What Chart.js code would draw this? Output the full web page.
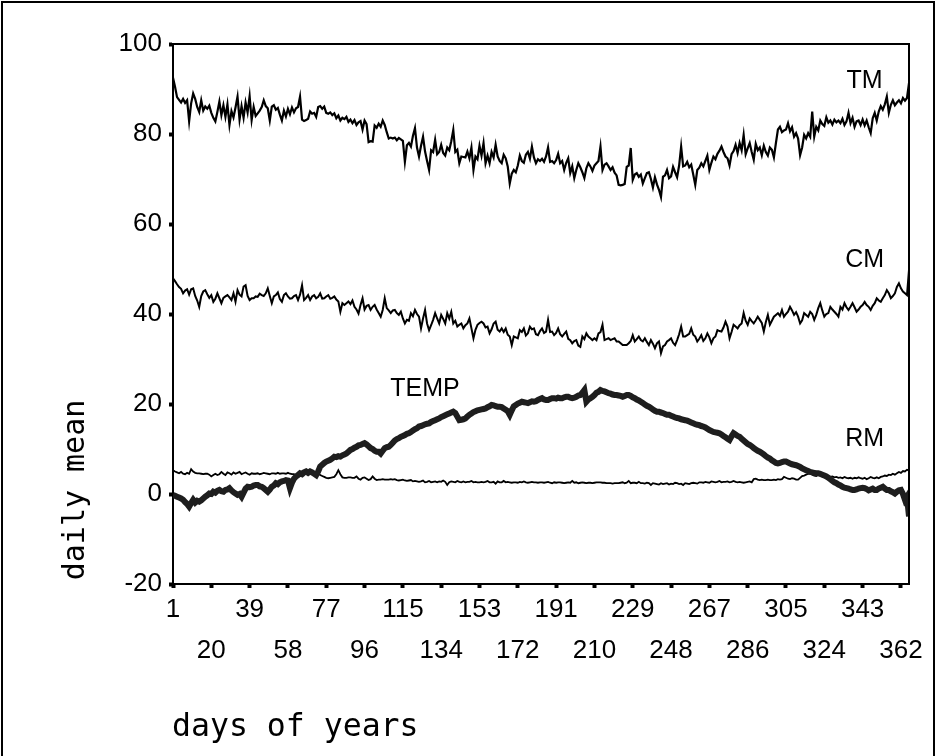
<!DOCTYPE html>
<html>
<head>
<meta charset="utf-8">
<script src="https://cdn.jsdelivr.net/npm/chart.js@4/dist/chart.umd.min.js"></script>
<style>
  html, body { margin: 0; padding: 0; background: #fff; }
  #wrap { position: relative; width: 936px; height: 756px; overflow: hidden; }
  #frame { position: absolute; left: 1px; top: 1px; width: 934px; height: 760px;
           border: 2px solid #000; box-sizing: border-box; pointer-events: none; }
</style>
</head>
<body>
<div id="wrap">
  <canvas id="chart" width="936" height="756"></canvas>
  <div id="frame"></div>
</div>
<script>
// ===== Data (daily means, one value per day of year) =====
const tm = [
  92.5, 90.5, 88.2, 87.6, 87.0, 87.8, 86.9, 87.5, 82.8, 86.8,
  89.0, 87.8, 86.0, 84.9, 87.5, 85.2, 86.1, 85.6, 86.3, 84.7,
  83.6, 82.8, 84.9, 87.2, 84.2, 86.4, 83.8, 86.6, 82.0, 85.1,
  83.7, 85.9, 88.3, 83.2, 86.2, 83.6, 87.0, 84.8, 88.4, 83.1,
  86.0, 84.0, 84.6, 85.2, 86.0, 87.5, 86.2, 85.7, 83.0, 86.1,
  86.4, 85.4, 85.8, 84.3, 83.0, 85.2, 83.9, 85.6, 84.4, 85.9,
  84.8, 85.7, 86.0, 88.3, 83.2, 82.9, 83.1, 83.4, 85.0, 84.5,
  84.7, 83.8, 86.0, 86.2, 85.6, 86.1, 84.7, 84.5, 84.8, 84.2,
  84.6, 83.5, 84.1, 83.0, 83.6, 83.3, 83.8, 82.7, 83.2, 82.4,
  83.1, 82.0, 82.6, 82.9, 81.0, 83.0, 82.2, 78.2, 78.4, 78.3,
  81.9, 81.4, 82.3, 81.6, 83.0, 82.0, 80.4, 79.0, 79.2, 79.0,
  79.2, 78.6, 79.1, 78.8, 78.5, 73.8, 77.5, 78.0, 77.2, 79.6,
  81.3, 77.0, 75.0, 77.4, 79.4, 76.1, 74.0, 72.0, 76.4, 76.0,
  78.7, 75.5, 76.0, 77.6, 75.8, 75.2, 77.0, 76.4, 78.4, 80.9,
  76.0, 76.5, 73.5, 75.0, 74.9, 74.8, 76.1, 74.6, 77.0, 72.0,
  75.0, 74.4, 77.4, 75.2, 78.0, 73.5, 75.2, 73.5, 76.0, 74.8,
  77.6, 75.0, 74.0, 73.5, 75.4, 74.6, 72.8, 69.0, 71.2, 72.0,
  71.5, 73.0, 75.2, 74.0, 73.6, 75.4, 76.0, 74.5, 77.2, 74.8,
  73.5, 74.4, 74.0, 74.5, 73.8, 75.0, 77.0, 73.8, 74.0, 73.5,
  74.2, 75.6, 73.5, 74.0, 72.0, 73.6, 74.6, 71.3, 72.8, 70.2,
  72.0, 73.5, 72.6, 71.5, 70.2, 72.4, 73.5, 72.8, 71.8, 73.0,
  73.5, 74.0, 77.2, 72.0, 73.2, 73.5, 72.8, 72.0, 72.6, 71.4,
  70.8, 68.7, 68.6, 68.7, 68.9, 72.7, 73.0, 76.9, 69.8, 71.0,
  71.3, 70.5, 71.0, 69.0, 70.2, 71.3, 71.5, 70.0, 68.1, 70.4,
  68.8, 67.6, 66.0, 70.5, 70.8, 72.0, 70.2, 70.6, 72.7, 71.5,
  70.4, 73.0, 77.2, 72.8, 73.0, 73.8, 72.6, 73.2, 71.0, 68.7,
  72.0, 72.5, 73.5, 72.8, 74.0, 75.2, 72.0, 73.6, 75.0, 74.4,
  75.6, 76.3, 77.2, 76.0, 75.0, 74.6, 73.0, 75.5, 76.2, 77.6,
  75.8, 78.0, 76.4, 79.8, 75.5, 76.8, 78.0, 76.0, 74.3, 77.8,
  76.4, 77.0, 75.3, 77.4, 76.0, 75.2, 77.0, 76.5, 74.8, 78.0,
  81.0, 81.6, 80.4, 80.8, 81.0, 82.4, 80.6, 81.5, 79.4, 80.2,
  79.0, 75.3, 77.0, 79.8, 79.0, 80.2, 79.4, 85.0, 79.4, 81.6,
  80.8, 83.0, 82.2, 81.8, 83.7, 82.5, 83.0, 82.1, 83.2, 82.6,
  83.0, 82.4, 83.4, 82.0, 82.8, 84.7, 82.4, 83.6, 81.6, 82.8,
  83.0, 82.0, 83.2, 81.9, 83.0, 81.5, 80.2, 83.5, 84.7, 83.0,
  85.0, 86.2, 85.4, 86.6, 88.3, 84.7, 86.5, 87.5, 86.4, 87.0,
  87.5, 86.8, 88.0, 87.4, 88.0, 91.3
];

const cm = [
  47.9, 47.3, 46.6, 46.0, 45.6, 44.6, 45.2, 45.5, 44.3, 45.5,
  45.7, 44.0, 43.0, 41.6, 44.0, 45.0, 45.3, 44.4, 43.6, 44.2,
  42.7, 43.4, 44.6, 43.5, 42.4, 43.6, 43.9, 44.2, 43.7, 43.1,
  44.6, 42.7, 45.3, 44.3, 43.9, 46.1, 46.4, 44.0, 43.1, 43.5,
  43.5, 43.9, 43.8, 44.5, 44.2, 44.0, 44.6, 45.7, 44.0, 42.4,
  43.9, 44.2, 44.8, 43.3, 42.7, 44.2, 44.6, 43.9, 43.4, 43.5,
  44.0, 44.2, 43.1, 44.3, 46.4, 43.1, 43.6, 44.2, 43.1, 43.9,
  44.2, 43.5, 43.8, 44.6, 43.4, 43.5, 43.9, 44.2, 43.4, 43.6,
  43.9, 43.2, 42.8, 40.5, 42.4, 42.0, 42.4, 42.8, 42.2, 43.0,
  41.6, 41.0, 40.1, 42.0, 43.5, 41.0, 41.8, 42.0, 40.9, 41.6,
  42.0, 41.0, 40.2, 39.4, 40.9, 43.5, 41.3, 40.8, 40.2, 40.8,
  40.9, 40.2, 39.8, 40.5, 39.0, 37.9, 38.7, 38.5, 40.2, 39.5,
  40.9, 40.0, 39.4, 36.8, 39.0, 40.9, 37.9, 36.4, 37.5, 38.7,
  40.2, 39.0, 37.9, 39.8, 38.9, 37.9, 40.2, 39.0, 40.5, 37.9,
  38.5, 37.2, 37.6, 37.9, 36.8, 37.5, 37.9, 39.0, 36.8, 34.6,
  36.5, 37.6, 38.0, 38.3, 37.9, 37.0, 37.2, 35.7, 36.6, 37.9,
  38.3, 36.5, 36.1, 36.8, 36.0, 36.8, 35.4, 35.0, 33.1, 35.0,
  34.8, 34.6, 36.4, 36.0, 36.8, 35.2, 35.7, 37.2, 36.6, 36.8,
  35.5, 35.3, 36.2, 36.8, 35.8, 36.1, 38.7, 36.0, 36.1, 35.3,
  35.8, 36.8, 35.5, 35.0, 35.6, 36.1, 34.5, 34.2, 33.5, 34.0,
  34.2, 33.0, 32.7, 35.0, 34.4, 35.7, 35.0, 34.6, 34.2, 34.6,
  34.2, 35.7, 36.0, 37.6, 34.2, 34.4, 34.6, 34.2, 34.4, 34.6,
  33.9, 33.9, 33.5, 33.1, 33.1, 33.1, 33.5, 34.0, 35.3, 33.9,
  34.4, 35.0, 34.2, 33.9, 34.6, 33.8, 33.1, 34.2, 33.4, 32.4,
  33.5, 33.9, 31.3, 32.8, 33.1, 33.9, 34.2, 34.6, 33.6, 33.1,
  34.2, 35.5, 37.2, 35.0, 35.0, 35.3, 35.6, 36.8, 35.4, 35.0,
  33.9, 34.5, 35.3, 34.0, 34.6, 35.7, 34.8, 33.5, 34.6, 35.0,
  36.4, 36.2, 36.1, 37.0, 38.3, 37.2, 34.6, 36.0, 37.6, 37.2,
  36.8, 37.5, 37.9, 40.2, 38.5, 37.6, 39.0, 38.4, 37.9, 38.6,
  39.4, 38.7, 38.0, 36.1, 38.2, 39.8, 37.6, 38.5, 39.4, 39.8,
  40.2, 39.6, 40.9, 39.4, 40.0, 40.5, 41.6, 40.8, 39.8, 40.4,
  39.4, 37.9, 38.6, 40.2, 39.8, 39.4, 40.5, 40.0, 38.7, 39.8,
  41.3, 42.4, 40.8, 39.4, 40.0, 40.2, 41.6, 41.0, 40.5, 40.0,
  39.4, 41.6, 41.0, 42.4, 41.5, 40.9, 41.6, 42.4, 41.5, 40.5,
  41.0, 41.6, 42.0, 42.7, 42.0, 41.6, 40.9, 41.8, 42.4, 43.5,
  43.0, 42.7, 43.5, 44.2, 45.3, 44.6, 43.5, 44.0, 44.6, 46.0,
  46.8, 45.7, 45.0, 44.6, 44.2, 49.8
];

const temp = [
  -0.2, -0.4, -0.6, -0.8, -1.0, -1.3, -1.8, -2.2, -2.8, -2.0,
  -1.3, -1.9, -1.5, -1.7, -1.4, -1.0, -0.6, -0.3, 0.1, 0.0,
  0.5, 0.3, 0.7, 0.9, 0.6, 0.5, 0.9, 1.0, 1.3, 0.8,
  0.4, 0.1, -0.2, 0.0, -0.6, 0.3, 1.2, 1.6, 1.5, 1.6,
  1.9, 2.0, 2.0, 1.7, 1.6, 1.3, 0.9, 0.5, 1.0, 1.6,
  1.9, 2.4, 2.2, 2.6, 2.8, 2.9, 3.1, 3.0, 1.3, 2.5,
  3.4, 3.9, 4.2, 4.6, 4.4, 4.8, 5.0, 4.7, 5.0, 4.8,
  4.5, 4.2, 5.0, 6.1, 6.5, 6.9, 7.2, 7.4, 7.6, 7.9,
  8.3, 8.2, 8.4, 8.3, 8.6, 8.8, 9.0, 9.4, 9.8, 10.0,
  10.3, 10.5, 10.8, 10.9, 11.1, 11.3, 11.0, 10.6, 10.2, 10.0,
  9.6, 9.4, 9.4, 9.0, 9.6, 10.2, 10.4, 10.5, 10.9, 11.4,
  11.9, 12.2, 12.4, 12.7, 12.9, 13.1, 13.4, 13.5, 13.8, 14.1,
  14.4, 14.6, 15.0, 15.1, 15.3, 15.5, 15.6, 15.7, 16.0, 16.2,
  16.4, 16.6, 16.8, 17.1, 17.3, 17.5, 17.7, 17.9, 18.1, 18.3,
  18.0, 17.2, 16.4, 16.5, 16.6, 16.8, 17.2, 17.6, 17.9, 18.2,
  18.4, 18.6, 18.7, 18.8, 18.9, 19.0, 19.3, 19.5, 19.8, 19.7,
  19.5, 19.4, 19.4, 19.3, 19.0, 18.7, 18.4, 17.6, 18.6, 19.5,
  19.8, 20.1, 20.3, 20.5, 20.4, 20.3, 20.2, 20.4, 20.6, 20.5,
  20.6, 20.9, 21.1, 21.3, 21.0, 20.9, 20.9, 21.1, 21.3, 21.3,
  21.2, 21.4, 21.3, 21.3, 21.5, 21.6, 21.6, 21.4, 21.3, 21.4,
  21.6, 21.9, 22.0, 22.5, 23.1, 20.5, 21.0, 21.3, 21.6, 22.0,
  22.5, 22.7, 23.1, 22.9, 22.8, 22.6, 22.4, 22.3, 22.1, 22.0,
  22.0, 21.9, 21.8, 21.6, 21.8, 22.0, 22.0, 21.8, 21.5, 21.3,
  21.0, 20.8, 20.5, 20.2, 19.9, 19.6, 19.4, 19.1, 18.8, 18.5,
  18.3, 18.3, 18.1, 18.0, 17.8, 17.6, 17.6, 17.4, 17.2, 17.0,
  16.9, 16.8, 16.6, 16.5, 16.4, 16.3, 16.1, 15.9, 15.7, 15.5,
  15.4, 15.3, 15.1, 15.0, 14.8, 14.5, 14.2, 14.0, 13.8, 13.7,
  13.6, 13.5, 13.2, 12.9, 12.6, 12.3, 12.0, 12.8, 13.5, 13.2,
  12.9, 12.7, 12.3, 11.9, 11.5, 11.1, 10.9, 10.6, 10.2, 9.9,
  9.6, 9.4, 9.1, 8.8, 8.4, 8.1, 7.9, 7.5, 7.2, 6.9,
  6.8, 6.9, 7.1, 7.2, 7.2, 7.0, 6.8, 6.6, 6.5, 6.4,
  6.2, 6.0, 5.7, 5.5, 5.3, 5.1, 4.9, 4.8, 4.7, 4.6,
  4.6, 4.5, 4.3, 4.1, 3.9, 3.6, 3.3, 2.9, 2.6, 2.4,
  2.1, 1.9, 1.6, 1.4, 1.3, 1.2, 1.0, 0.9, 0.9, 1.0,
  1.2, 1.3, 1.4, 1.3, 1.1, 0.8, 1.0, 1.2, 0.9, 0.9,
  1.2, 1.4, 1.6, 1.2, 0.9, 0.9, 0.6, 0.4, 0.1, 0.5,
  0.8, 0.9, 0.0, -1.3, -0.6, -5.0
];

const rm = [
  5.3, 5.0, 4.8, 4.6, 4.9, 4.5, 4.4, 4.7, 4.5, 5.5,
  5.0, 4.7, 4.6, 4.6, 4.5, 4.4, 4.5, 4.5, 4.3, 3.9,
  4.2, 4.5, 4.2, 4.4, 4.9, 4.5, 4.2, 4.8, 4.6, 4.3,
  4.8, 4.5, 4.7, 4.9, 4.4, 4.6, 4.8, 4.5, 4.3, 4.6,
  4.5, 4.5, 4.6, 4.4, 4.5, 4.7, 4.6, 4.5, 4.4, 4.6,
  4.6, 4.5, 4.7, 4.5, 4.6, 4.6, 4.5, 4.7, 4.5, 4.4,
  4.4, 4.0, 4.3, 4.7, 4.8, 4.6, 4.5, 4.5, 4.6, 4.4,
  4.3, 4.5, 4.6, 4.2, 4.0, 3.8, 3.6, 3.5, 3.6, 3.7,
  3.8, 4.4, 5.3, 4.4, 3.7, 3.6, 3.6, 3.7, 3.7, 3.6,
  3.6, 3.9, 3.4, 3.2, 3.6, 3.7, 3.4, 3.1, 3.3, 3.9,
  3.4, 3.1, 3.2, 3.2, 3.3, 3.2, 3.2, 3.2, 3.3, 3.2,
  3.3, 3.1, 3.0, 3.1, 3.2, 3.0, 2.9, 3.0, 3.1, 2.8,
  2.9, 2.8, 2.7, 2.8, 3.0, 2.6, 2.7, 2.9, 2.6, 2.7,
  2.8, 2.6, 2.8, 2.7, 3.0, 2.7, 2.0, 2.6, 2.8, 2.7,
  2.6, 2.9, 2.7, 2.6, 2.8, 2.6, 2.7, 2.7, 2.9, 2.6,
  2.7, 2.6, 2.6, 2.7, 2.6, 2.7, 2.9, 2.6, 2.6, 2.7,
  2.3, 2.8, 2.6, 2.6, 2.9, 2.6, 2.7, 2.6, 2.5, 2.6,
  2.6, 2.5, 2.7, 2.6, 2.8, 2.6, 2.5, 2.6, 2.7, 2.6,
  2.6, 2.5, 2.6, 2.6, 2.5, 2.6, 2.7, 2.5, 2.4, 2.6,
  2.5, 2.6, 2.6, 2.5, 2.4, 2.5, 2.6, 2.5, 2.9, 2.5,
  2.6, 2.4, 2.5, 2.6, 2.5, 2.4, 2.5, 2.5, 2.4, 2.5,
  2.6, 2.6, 2.6, 2.5, 2.5, 2.4, 2.4, 2.4, 2.3, 2.4,
  2.4, 2.4, 2.5, 2.6, 2.4, 2.5, 2.9, 2.4, 2.5, 2.5,
  2.4, 2.7, 2.4, 2.4, 2.3, 2.5, 2.4, 2.0, 2.4, 2.3,
  2.2, 2.1, 2.4, 2.2, 2.3, 2.4, 2.1, 2.3, 2.2, 2.5,
  2.4, 2.2, 2.3, 2.0, 2.4, 2.3, 2.2, 2.4, 2.5, 2.4,
  2.3, 2.6, 2.6, 2.5, 2.7, 2.6, 2.5, 2.8, 2.7, 2.6,
  2.7, 2.9, 2.6, 2.7, 2.7, 2.8, 2.6, 2.7, 2.9, 2.7,
  2.6, 2.7, 2.6, 2.5, 2.6, 2.7, 2.8, 2.6, 3.3, 3.4,
  3.2, 3.1, 3.2, 3.1, 3.1, 3.2, 3.1, 3.1, 3.2, 3.1,
  3.3, 3.2, 3.3, 3.8, 3.6, 3.4, 3.3, 3.5, 3.4, 3.2,
  3.2, 3.6, 4.0, 4.1, 4.3, 4.5, 4.6, 4.3, 4.1, 4.0,
  4.3, 4.1, 4.0, 3.9, 4.2, 3.9, 3.8, 3.9, 3.7, 3.8,
  3.6, 3.7, 3.5, 3.8, 3.6, 3.5, 3.6, 3.4, 3.6, 3.5,
  3.7, 3.5, 3.4, 3.6, 3.3, 3.5, 3.8, 3.6, 3.5, 3.7,
  3.5, 3.8, 3.9, 4.1, 4.0, 4.3, 4.2, 4.5, 4.3, 4.6,
  4.9, 4.7, 5.1, 5.0, 5.4, 5.2
];

// day numbers 1..366 (x categories)
const days = tm.map((_, i) => i + 1);

const dayTicks = [1, 20, 39, 58, 77, 96, 115, 134, 153, 172, 191, 210, 229, 248, 267, 286, 305, 324, 343, 362];
const valueTicks = [-20, 0, 20, 40, 60, 80, 100];

// series names written inside the plot, anchored in data units
const seriesLabels = [
  { text: 'TM',   day: 344, value: 91.8 },
  { text: 'CM',   day: 344, value: 52.0 },
  { text: 'RM',   day: 344, value: 12.2 },
  { text: 'TEMP', day: 126, value: 23.3 }
];

const xTitle = 'days of years';
const yTitle = 'daily mean';

// ===== Plugin: frame box, series names, axis titles =====
const decorations = {
  id: 'decorations',
  afterDraw(chart) {
    const { ctx, chartArea: a, scales } = chart;
    ctx.save();

    // top and right edges of the plot box
    ctx.strokeStyle = '#000';
    ctx.lineWidth = 2;
    ctx.beginPath();
    ctx.moveTo(a.left, a.top);
    ctx.lineTo(a.right, a.top);
    ctx.lineTo(a.right, a.bottom);
    ctx.stroke();

    ctx.fillStyle = '#000';
    ctx.font = '25px "Liberation Sans Narrow", "Liberation Sans"';
    ctx.textAlign = 'center';
    ctx.textBaseline = 'middle';
    seriesLabels.forEach(l => {
      ctx.fillText(l.text, scales.x.getPixelForValue(l.day), scales.y.getPixelForValue(l.value));
    });

    ctx.font = '31.5px "DejaVu Sans Mono"';
    ctx.textAlign = 'left';
    ctx.textBaseline = 'alphabetic';
    ctx.fillText(xTitle, 172, 736);

    ctx.font = '30px "DejaVu Sans Mono"';
    ctx.translate(84, 490);
    ctx.rotate(-Math.PI / 2);
    ctx.textAlign = 'center';
    ctx.fillText(yTitle, 0, 0);
    ctx.restore();
  }
};

const tickFont = { family: '"Liberation Sans", Arial', size: 26 };

const lineStyle = (color, width) => ({
  borderColor: color,
  borderWidth: width,
  pointRadius: 0,
  tension: 0,
  fill: false
});

new Chart(document.getElementById('chart'), {
  type: 'line',
  data: {
    labels: days,
    datasets: [
      { label: 'TEMP', data: temp, ...lineStyle('#1e1e1e', 6), order: 0 },
      { label: 'TM',   data: tm,   ...lineStyle('#000', 2.2), order: 1 },
      { label: 'CM',   data: cm,   ...lineStyle('#000', 2),   order: 1 },
      { label: 'RM',   data: rm,   ...lineStyle('#000', 1.8), order: 1 }
    ]
  },
  options: {
    responsive: false,
    animation: false,
    devicePixelRatio: 1,
    layout: { padding: { top: 44, right: 27, left: 0, bottom: 0 } },
    plugins: { legend: { display: false }, tooltip: { enabled: false } },
    scales: {
      x: {
        type: 'linear',
        min: 1,
        max: 366,
        afterBuildTicks: s => { s.ticks = dayTicks.map(v => ({ value: v })); },
        afterFit: s => { s.height = 172; },
        border: { display: true, color: '#000', width: 2 },
        grid: { drawOnChartArea: false, drawTicks: true, tickLength: 4, tickWidth: 4, tickColor: '#000' },
        ticks: {
          autoSkip: false,
          maxRotation: 0,
          padding: 1,
          color: '#000',
          font: { ...tickFont, lineHeight: 1.58 },
          callback: (v, i) => i % 2 === 0 ? String(v) : ['', String(v)]
        }
      },
      y: {
        min: -20,
        max: 100,
        afterBuildTicks: s => { s.ticks = valueTicks.map(v => ({ value: v })); },
        afterFit: s => { s.width = 173; },
        border: { display: true, color: '#000', width: 2 },
        grid: { drawOnChartArea: false, drawTicks: true, tickLength: 4, tickWidth: 4, tickColor: '#000' },
        ticks: { padding: 7, color: '#000', font: tickFont }
      }
    }
  },
  plugins: [decorations]
});
</script>
</body>
</html>
